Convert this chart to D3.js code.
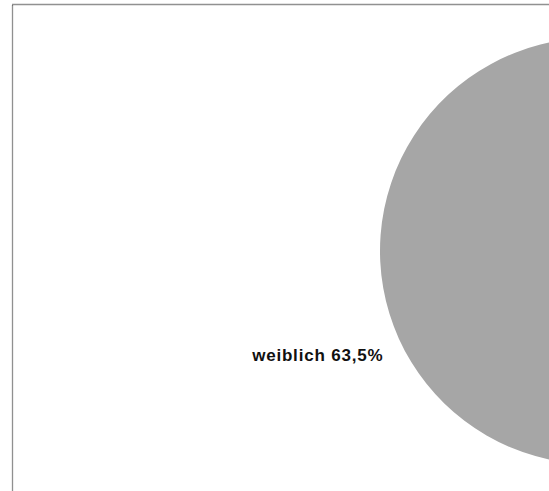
<!DOCTYPE html>
<html>
<head>
<meta charset="utf-8">
<script src="https://cdn.jsdelivr.net/npm/d3@7"></script>
<style>
  html, body { margin: 0; padding: 0; background: #fff; overflow: hidden; }
</style>
</head>
<body>
<div id="canvas"></div>
<script>
// Geschlechterverteilung (Prozent)
const categories = ["männlich", "weiblich"];
const values = [36.5, 63.5];
const colors = ["#7f7f7f", "#a6a6a6"];

const width = 549;
const height = 491;

const svg = d3
  .select("#canvas")
  .append("svg")
  .attr("width", width)
  .attr("height", height);

// gepunkteter Rahmen
svg
  .append("rect")
  .attr("x", 12.5)
  .attr("y", 4.5)
  .attr("width", 800)
  .attr("height", 700)
  .attr("fill", "none")
  .attr("stroke", "#222")
  .attr("stroke-width", 1.3)
  .attr("stroke-dasharray", "1,1");

const cx = 593;
const cy = 251;
const radius = 213;

const data = categories.map((c, i) => ({ name: c, value: values[i], color: colors[i] }));

const pie = d3.pie().sort(null).value(d => d.value);
const arc = d3.arc().innerRadius(0).outerRadius(radius);
const labelArc = d3.arc().innerRadius(radius * 1.08).outerRadius(radius * 1.08);

const g = svg.append("g").attr("transform", `translate(${cx},${cy})`);

const arcs = pie(data);

g.selectAll("path")
  .data(arcs)
  .enter()
  .append("path")
  .attr("d", arc)
  .attr("fill", d => d.data.color);

const fmt = v => d3.format(".1f")(v).replace(".", ",") + "%";

// nur Beschriftungen, die im sichtbaren Bereich liegen
const visible = arcs.filter(d => cx + labelArc.centroid(d)[0] < width);

g.selectAll("text")
  .data(visible)
  .enter()
  .append("text")
  .attr("transform", d => `translate(${labelArc.centroid(d)})`)
  .attr("text-anchor", d => ((d.startAngle + d.endAngle) / 2 > Math.PI ? "end" : "start"))
  .attr("dy", "0.92em")
  .style("font-family", "'Liberation Sans', Arial, sans-serif")
  .style("font-weight", "bold")
  .style("font-size", "17px")
  .style("letter-spacing", "0.8px")
  .style("fill", "#111")
  .text(d => `${d.data.name} ${fmt(d.data.value)}`);
</script>
</body>
</html>
